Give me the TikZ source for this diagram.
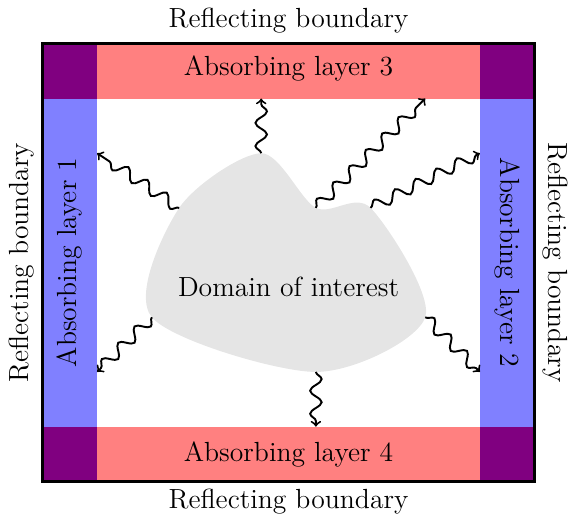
\documentclass[tikz,border=0pt]{standalone}
\usetikzlibrary{decorations.pathmorphing}
\begin{document}
\begin{tikzpicture}[
  lbl/.style={font=\Large, inner sep=0pt},
  wave/.style={->, line width=1pt, decorate, decoration={snake, segment length=12pt, amplitude=3pt, post length=2pt}},
  rlayer/.style={fill=red!50},
  blayer/.style={fill=blue!50},
  corner/.style={fill=red!50!blue},
]
\useasboundingbox (-0.777,-0.744) rectangle (9.629,8.802);
% layers
\path[rlayer] (1,0) rectangle (8,1);
\path[rlayer] (1,7) rectangle (8,8);
\path[blayer] (0,1) rectangle (1,7);
\path[blayer] (8,1) rectangle (9,7);
\path[corner] (0,0) rectangle (1,1);
\path[corner] (8,0) rectangle (9,1);
\path[corner] (0,7) rectangle (1,8);
\path[corner] (8,7) rectangle (9,8);
\draw[ultra thick] (0,0) rectangle (9,8);
% domain
\fill[gray!20] plot[smooth cycle] coordinates {(4,6) (5,5) (6,5) (7,3) (5,2) (2,3) (2.5,5)};
\node[lbl] (dom) at (4.5,3.55) {Domain of interest};
% labels
\node[lbl] (l3) at (4.5,7.55) {Absorbing layer 3};
\node[lbl] (l4) at (4.5,0.5) {Absorbing layer 4};
\node[lbl, rotate=90] (l1) at (0.5,4) {Absorbing layer 1};
\node[lbl, rotate=-90] (l2) at (8.5,4) {Absorbing layer 2};
\node[lbl] (rt) at (4.5,8.42) {Reflecting boundary};
\node[lbl] (rb) at (4.5,-0.38) {Reflecting boundary};
\node[lbl, rotate=90] (rl) at (-0.38,4) {Reflecting boundary};
\node[lbl, rotate=-90] (rr) at (9.38,4) {Reflecting boundary};
% arrow endpoints
\coordinate (s1) at (4,6);   \coordinate (e1) at (4,7);
\coordinate (s2) at (2.5,5); \coordinate (e2) at (1,6);
\coordinate (s3) at (5,5);   \coordinate (e3) at (7,7);
\coordinate (s4) at (6,5);   \coordinate (e4) at (8,6);
\coordinate (s5) at (2,3);   \coordinate (e5) at (1,2);
\coordinate (s6) at (7,3);   \coordinate (e6) at (8,2);
\coordinate (s7) at (5,2);   \coordinate (e7) at (5,1);
\foreach \i in {1,...,7} {\draw[wave] (s\i) -- (e\i);}
\end{tikzpicture}
\end{document}
